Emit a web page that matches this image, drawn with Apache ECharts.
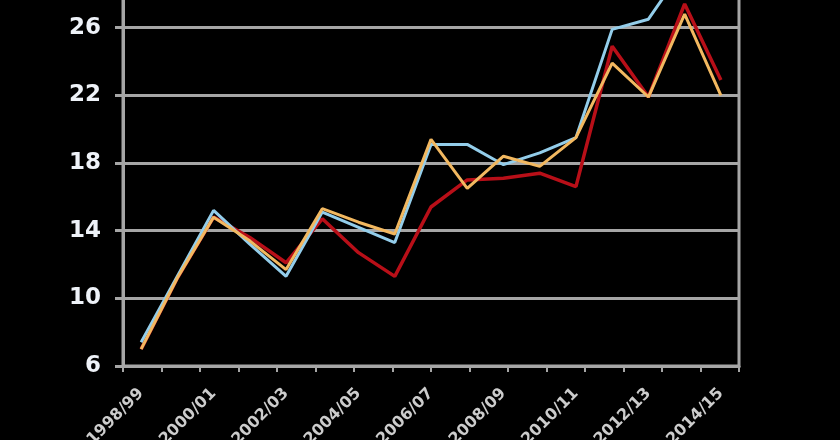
<!DOCTYPE html>
<html>
<head>
<meta charset="utf-8">
<script src="https://cdn.jsdelivr.net/npm/echarts@6/dist/echarts.min.js"></script>
<style>
html,body{margin:0;padding:0;background:#000;overflow:hidden;}
#chart{position:absolute;left:0;top:-40px;width:840px;height:480px;}
</style>
</head>
<body>
<div id="chart"></div>
<script>
var categories = ['1998/99','1999/00','2000/01','2001/02','2002/03','2003/04','2004/05','2005/06','2006/07','2007/08','2008/09','2009/10','2010/11','2011/12','2012/13','2013/14','2014/15'];
var redValues    = [7.0, 11.2, 14.8, 13.6, 12.1, 14.7, 12.7, 11.3, 15.4, 17.0, 17.1, 17.4, 16.6, 24.9, 21.9, 27.4, 22.9];
var orangeValues = [7.0, 11.2, 14.8, 13.4, 11.7, 15.3, 14.5, 13.8, 19.4, 16.5, 18.4, 17.8, 19.5, 23.9, 21.9, 26.8, 22.0];
var blueValues   = [7.4, 11.3, 15.2, 13.2, 11.3, 15.1, 14.2, 13.3, 19.1, 19.1, 17.9, 18.6, 19.5, 25.9, 26.5, 29.6, null];
var yMin = 6, yMax = 30, yStep = 4;
var tickBands = new Array(16).fill('');

var chart = echarts.init(document.getElementById('chart'));
var grey = '#a6a6a6';
var font = '"DejaVu Sans", sans-serif';
chart.setOption({
  backgroundColor: '#000',
  animation: false,
  grid: {left: 123, right: 101, top: 0, bottom: 74, outerBoundsMode: 'none', containLabel: false, show: true, borderColor: grey, borderWidth: 3, backgroundColor: 'transparent'},
  xAxis: [{
    type: 'category',
    data: categories,
    boundaryGap: true,
    axisLine: {lineStyle: {color: grey, width: 3}},
    axisTick: {show: false},
    axisLabel: {
      interval: 1, rotate: 45, margin: 25,
      color: '#cccccc', fontFamily: font,
      fontWeight: 'bold', fontSize: 16
    }
  }, {
    type: 'category',
    data: tickBands,
    position: 'bottom',
    boundaryGap: true,
    axisLine: {show: false},
    axisLabel: {show: false},
    axisTick: {show: true, length: 6, lineStyle: {color: grey, width: 2}}
  }],
  yAxis: {
    type: 'value',
    min: yMin, max: yMax, interval: yStep,
    axisLine: {show: true, lineStyle: {color: grey, width: 3}},
    axisTick: {show: true, length: 8, lineStyle: {color: grey, width: 3}},
    splitLine: {lineStyle: {color: grey, width: 3}},
    axisLabel: {
      margin: 22, color: '#eef2f8',
      fontFamily: font,
      fontWeight: 'bold', fontSize: 23
    }
  },
  series: [
    {type: 'line', data: redValues, symbol: 'none', lineStyle: {color: '#b80f18', width: 3.5}, z: 3},
    {type: 'line', data: blueValues, symbol: 'none', lineStyle: {color: '#93cdea', width: 3}, z: 4},
    {type: 'line', data: orangeValues, symbol: 'none', lineStyle: {color: '#f2b860', width: 3}, z: 5}
  ]
});
</script>
</body>
</html>
